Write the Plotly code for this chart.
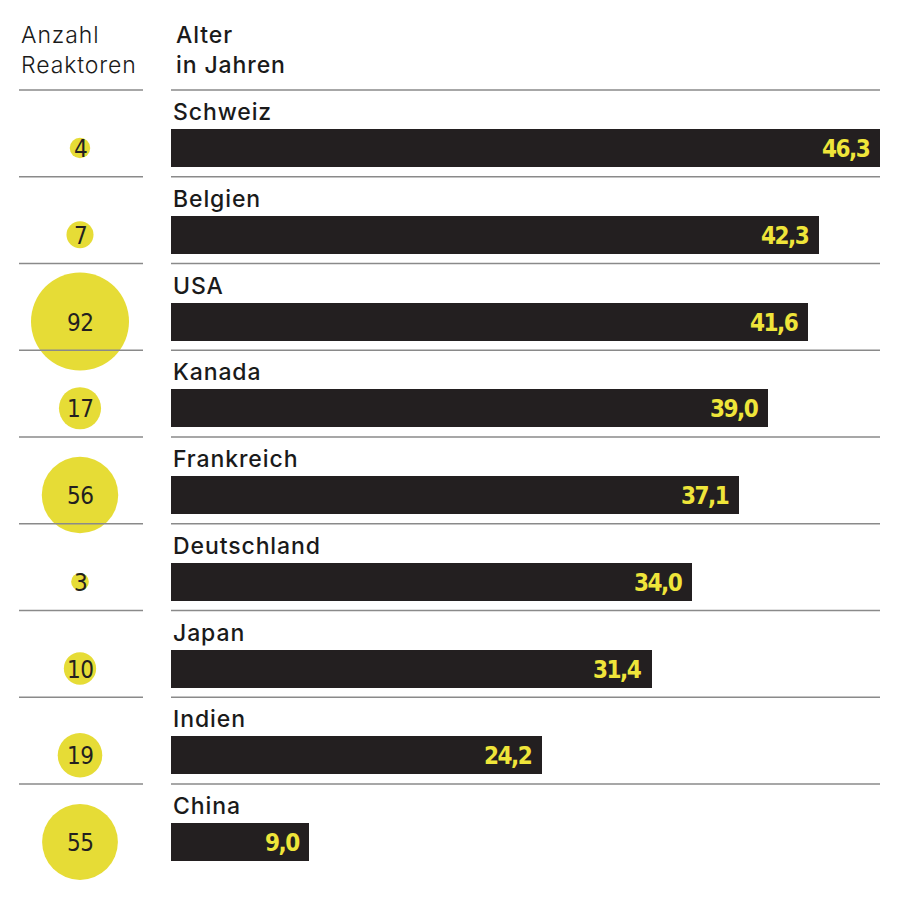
import plotly.graph_objects as go

countries = ["Schweiz", "Belgien", "USA", "Kanada", "Frankreich",
             "Deutschland", "Japan", "Indien", "China"]
age_years = [46.3, 42.3, 41.6, 39.0, 37.1, 34.0, 31.4, 24.2, 9.0]
reactors = [4, 7, 92, 17, 56, 3, 10, 19, 55]

BAR = "#231f20"
YEL = "#e6dc36"
YEL_TXT = "#efe53a"
LINE = "#8a8a8a"
TXT = "#1a1a1a"

rows = list(range(len(countries)))
# y axis in row units: row i bar centre
PITCH = 86.75
Y0 = 148.0
y_top = -Y0 / PITCH
y_bot = (900 - Y0) / PITCH


def spaced(s, px):
    return f'<span style="letter-spacing:{px}px">{s}</span>'


fig = go.Figure()

fig.add_trace(go.Bar(
    x=age_years, y=rows, orientation="h",
    width=38 / PITCH, marker=dict(color=BAR, line=dict(width=0)),
    xaxis="x", yaxis="y", hoverinfo="skip", showlegend=False,
))

max_d = 98.0
fig.add_trace(go.Scatter(
    x=[0.5] * len(reactors), y=rows, mode="markers",
    marker=dict(size=reactors, sizemode="area",
                sizeref=2.0 * max(reactors) / (max_d ** 2),
                color=YEL, opacity=1, line=dict(width=0)),
    xaxis="x2", yaxis="y", hoverinfo="skip", showlegend=False,
))

annotations = []
shapes = []
for i, (c, v, n) in enumerate(zip(countries, age_years, reactors)):
    annotations.append(dict(
        x=0.5, y=i, xref="x2", yref="y", text=spaced(str(n), -0.5), showarrow=False,
        xanchor="center", yanchor="middle", yshift=-1,
        font=dict(family="DejaVu Sans Condensed", size=24, color=BAR, weight=300),
    ))
    annotations.append(dict(
        x=0, y=i - 36 / PITCH, xref="x", yref="y", text=spaced(c, 0.9), showarrow=False,
        xanchor="left", yanchor="middle", xshift=0,
        font=dict(family="Inter", size=23, color=TXT, weight=500),
    ))
    annotations.append(dict(
        x=v, y=i + 1 / PITCH, xref="x", yref="y",
        text=spaced(f"{v:.1f}".replace(".", ","), -1.5),
        showarrow=False, xanchor="right", yanchor="middle", xshift=-8,
        font=dict(family="DejaVu Sans Condensed", size=24,
                  color=YEL_TXT, weight="bold"),
    ))
    ysep = i - 58 / PITCH
    shapes.append(dict(type="line", xref="paper", yref="y", x0=19 / 900, x1=143 / 900,
                       y0=ysep, y1=ysep, line=dict(color=LINE, width=1.5)))
    shapes.append(dict(type="line", xref="paper", yref="y", x0=171 / 900, x1=880 / 900,
                       y0=ysep, y1=ysep, line=dict(color=LINE, width=1.5)))

annotations.append(dict(
    x=19 / 900, y=1 - 50 / 900, xref="paper", yref="paper",
    text=spaced("Anzahl", 0.9) + "<br>" + spaced("Reaktoren", 0.9), showarrow=False,
    xanchor="left", yanchor="middle",
    align="left", font=dict(family="Inter", size=23, color=TXT, weight=300),
))
annotations.append(dict(
    x=174 / 900, y=1 - 50 / 900, xref="paper", yref="paper",
    text=spaced("Alter", 0.9) + "<br>" + spaced("in Jahren", 0.9), showarrow=False,
    xanchor="left", yanchor="middle",
    align="left", font=dict(family="Inter", size=23, color=TXT, weight=500),
))

fig.update_layout(
    width=900, height=900, margin=dict(l=0, r=0, t=0, b=0),
    paper_bgcolor="white", plot_bgcolor="white",
    xaxis=dict(domain=[171 / 900, 880 / 900], range=[0, 46.3], visible=False, fixedrange=True),
    xaxis2=dict(domain=[0, 160 / 900], range=[0, 1], visible=False, fixedrange=True),
    yaxis=dict(range=[y_bot, y_top], visible=False, fixedrange=True),
    annotations=annotations, shapes=shapes, bargap=0,
    separators=",.", hovermode=False,
)

fig.write_html("out.html", config={"displayModeBar": False},
               post_script="document.body.style.margin='0';")
